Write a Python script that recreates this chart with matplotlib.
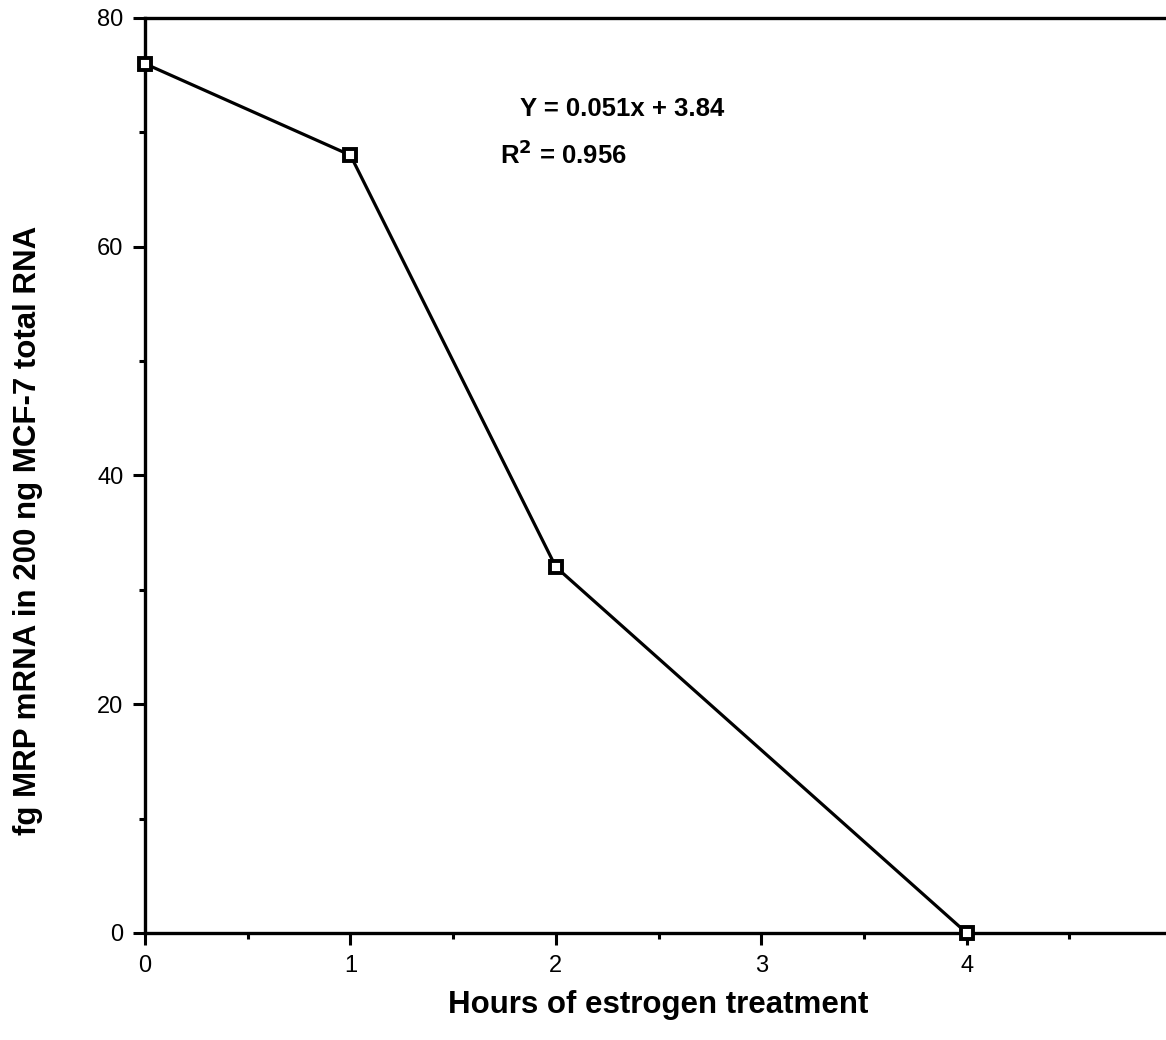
import matplotlib.pyplot as plt
from matplotlib.ticker import MultipleLocator

# Data
hours = [0, 1, 2, 4]
mrp_fg = [76, 68, 32, 0]
x_ticks = [0, 1, 2, 3, 4, 5]
y_ticks = [0, 20, 40, 60, 80]

plt.rcParams['font.family'] = ['Liberation Sans', 'DejaVu Sans']

fig = plt.figure(figsize=(11.66, 10.4), dpi=100)
ax = fig.add_axes([0.1244, 0.1029, 0.8808, 0.8798])

ax.plot(hours, mrp_fg, color='black', linewidth=2.3, marker='s', markersize=9,
        markerfacecolor='white', markeredgecolor='black', markeredgewidth=2.8,
        clip_on=False, zorder=3)

ax.set_xlim(0, 5)
ax.set_ylim(0, 80)
ax.set_xticks(x_ticks)
ax.set_yticks(y_ticks)
ax.xaxis.set_minor_locator(MultipleLocator(0.5))
ax.yaxis.set_minor_locator(MultipleLocator(10))
ax.tick_params(which='major', direction='out', length=8.5, width=2.2, labelsize=17, pad=7)
ax.tick_params(which='minor', direction='out', length=4, width=2.2)

for side in ['left', 'bottom', 'top']:
    ax.spines[side].set_linewidth(2.4)
ax.spines['right'].set_visible(False)

ax.set_xlabel("Hours of estrogen treatment", fontsize=22.5, fontweight='bold')
ax.set_ylabel("fg MRP mRNA in 200 ng MCF-7 total RNA", fontsize=22.5, fontweight='bold')
ax.xaxis.set_label_coords(0.4995, -0.062)
ax.yaxis.set_label_coords(-0.0993, 0.44)

ax.text(1.826, 72, "Y = 0.051x + 3.84", fontsize=18.5, fontweight='bold', va='center')
ax.text(1.728, 68, r"R$^{\mathbf{2}}$ = 0.956", fontsize=18.5, fontweight='bold', va='center')

fig.savefig("out.png", dpi=100)
